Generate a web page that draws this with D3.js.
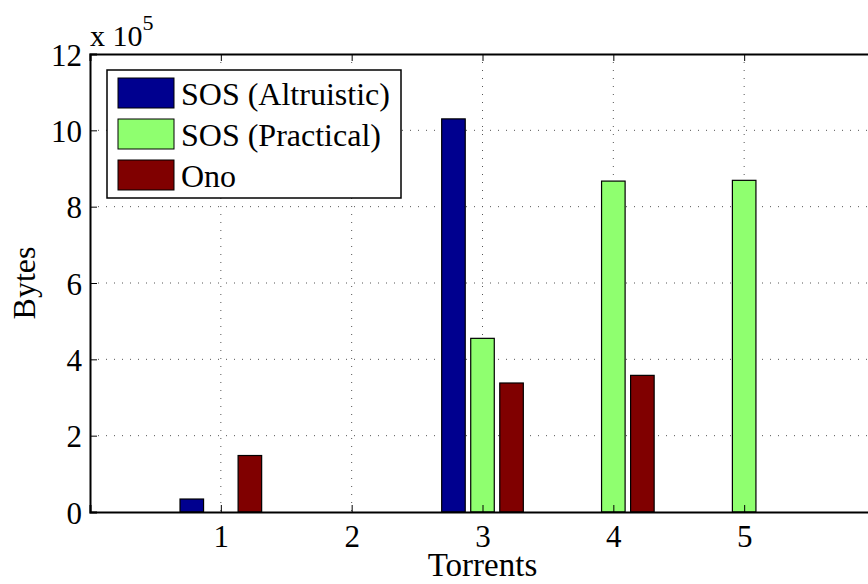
<!DOCTYPE html>
<html>
<head>
<meta charset="utf-8">
<script src="https://cdn.jsdelivr.net/npm/d3@7"></script>
<style>
  body { margin: 0; background: #fff; }
</style>
</head>
<body>
<svg id="chart" width="868" height="584"></svg>
<script>
// datos del gráfico
var torrents = [1, 2, 3, 4, 5];
var seriesNames = ["SOS (Altruistic)", "SOS (Practical)", "Ono"];
var seriesColors = ["#00008f", "#8fff6f", "#800000"];
var altruistic = [0.34, 0, 10.3, 0, 0];
var practical = [0, 0, 4.55, 8.67, 8.69];
var ono = [1.48, 0, 3.38, 3.58, 0];
var yTicks = [0, 2, 4, 6, 8, 10, 12];

var series = [altruistic, practical, ono];
var fuente = "'Liberation Serif', 'Times New Roman', Times, serif";

var margin = { top: 54, left: 90 },
    plotRight = 875,
    plotBottom = 512;

var svg = d3.select("#chart");

var x = d3.scaleLinear().domain([0, 6]).range([margin.left, plotRight]);
var y = d3.scaleLinear().domain([0, 12]).range([plotBottom, margin.top]);

// rejilla punteada
var grid = svg.append("g");
grid.selectAll("line.gy")
    .data(yTicks.slice(1, -1))
    .enter().append("line")
    .attr("x1", margin.left).attr("x2", plotRight)
    .attr("y1", function (d) { return y(d); })
    .attr("y2", function (d) { return y(d); })
    .attr("stroke", "#555").attr("stroke-width", 1)
    .attr("stroke-dasharray", "1,7");
grid.selectAll("line.gx")
    .data(torrents)
    .enter().append("line")
    .attr("y1", margin.top).attr("y2", plotBottom)
    .attr("x1", function (d) { return x(d); })
    .attr("x2", function (d) { return x(d); })
    .attr("stroke", "#555").attr("stroke-width", 1)
    .attr("stroke-dasharray", "1,7");

// barras
var offsets = [-0.222, 0, 0.222];
var barW = 0.18;
series.forEach(function (vals, i) {
    svg.append("g").selectAll("rect")
        .data(vals.map(function (v, j) { return { t: torrents[j], v: v }; }).filter(function (d) { return d.v > 0; }))
        .enter().append("rect")
        .attr("x", function (d) { return x(d.t + offsets[i] - barW / 2); })
        .attr("width", x(barW) - x(0))
        .attr("y", function (d) { return y(d.v); })
        .attr("height", function (d) { return y(0) - y(d.v); })
        .attr("fill", seriesColors[i])
        .attr("stroke", "#000").attr("stroke-width", 1.2);
});

// ejes
var axisBottom = svg.append("g")
    .attr("transform", "translate(0," + plotBottom + ")")
    .call(d3.axisBottom(x).tickValues(torrents).tickSize(-7).tickPadding(13).tickFormat(d3.format("d")));
var axisTop = svg.append("g")
    .attr("transform", "translate(0," + margin.top + ")")
    .call(d3.axisTop(x).tickValues(torrents).tickSize(-7).tickFormat(""));
var axisLeft = svg.append("g")
    .attr("transform", "translate(" + margin.left + ",0)")
    .call(d3.axisLeft(y).tickValues(yTicks).tickSize(-7).tickPadding(8).tickFormat(d3.format("d")));

[axisBottom, axisTop, axisLeft].forEach(function (a) {
    a.attr("font-family", null).attr("font-size", null);
    a.select(".domain").attr("stroke", "#000").attr("stroke-width", 2);
    a.selectAll(".tick line").attr("stroke", "#000").attr("stroke-width", 1);
    a.selectAll(".tick text")
        .style("font-family", fuente).style("font-size", "31px").attr("fill", "#000");
});
axisBottom.selectAll(".tick text").attr("dy", "0.7em");
axisLeft.selectAll(".tick text").attr("dy", "0.36em");

// etiquetas
svg.append("text")
    .attr("x", (margin.left + plotRight) / 2).attr("y", 576)
    .attr("text-anchor", "middle")
    .style("font-family", fuente).style("font-size", "33px")
    .text("Torrents");
svg.append("text")
    .attr("transform", "translate(35," + ((margin.top + plotBottom) / 2) + ") rotate(-90)")
    .attr("text-anchor", "middle")
    .style("font-family", fuente).style("font-size", "32px")
    .text("Bytes");
var expo = svg.append("text").attr("x", 90).attr("y", 46)
    .style("font-family", fuente).style("font-size", "30px");
expo.append("tspan").text("x 10");
expo.append("tspan").attr("dy", -16).style("font-size", "22px").text("5");

// leyenda
var legend = svg.append("g");
legend.append("rect")
    .attr("x", 107).attr("y", 70).attr("width", 294).attr("height", 128)
    .attr("fill", "#fff").attr("stroke", "#000").attr("stroke-width", 1.5);
seriesNames.forEach(function (name, i) {
    legend.append("rect")
        .attr("x", 118).attr("y", 78 + i * 41).attr("width", 56).attr("height", 30)
        .attr("fill", seriesColors[i]).attr("stroke", "#000").attr("stroke-width", 1);
    legend.append("text")
        .attr("x", 181).attr("y", 104.5 + i * 41)
        .style("font-family", fuente).style("font-size", "32px").text(name);
});
</script>
</body>
</html>
